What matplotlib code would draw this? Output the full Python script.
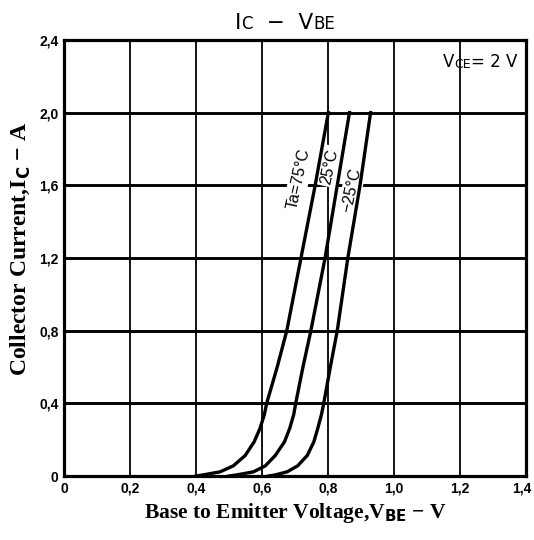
import matplotlib.pyplot as plt
import matplotlib.transforms as mtransforms
import numpy as np

# Ic - Vbe curves (V, A)
ic_pts = [0.0, 0.006, 0.023, 0.056, 0.113, 0.188, 0.263, 0.338, 0.40, 0.60, 0.80, 1.20, 1.60, 2.00]
vbe_75 = [0.400, 0.421, 0.473, 0.513, 0.549, 0.576, 0.594, 0.607, 0.614, 0.646, 0.675, 0.718, 0.761, 0.801]
vbe_25 = [0.500, 0.523, 0.574, 0.610, 0.640, 0.668, 0.684, 0.696, 0.702, 0.724, 0.748, 0.791, 0.828, 0.865]
vbe_m25 = [0.620, 0.640, 0.676, 0.708, 0.737, 0.757, 0.769, 0.780, 0.787, 0.807, 0.828, 0.860, 0.897, 0.929]

x_ticks = [0, 0.2, 0.4, 0.6, 0.8, 1.0, 1.2, 1.4]
x_labels = ["0", "0,2", "0,4", "0,6", "0,8", "1,0", "1,2", "1,4"]
y_ticks = [0, 0.4, 0.8, 1.2, 1.6, 2.0, 2.4]
y_labels = ["0", "0,4", "0,8", "1,2", "1,6", "2,0", "2,4"]

fig = plt.figure(figsize=(5.34, 5.4), dpi=100)
ax = fig.add_axes([0.12, 0.1185, 0.865, 0.8075])

# grid: horizontal lines are heavier than the vertical ones
for y in y_ticks[1:-1]:
    ax.axhline(y, color="black", lw=2.1, zorder=1)
for x in x_ticks[1:-1]:
    ax.axvline(x, color="black", lw=1.3, zorder=1)

for v in [vbe_75, vbe_25, vbe_m25]:
    ax.plot(v, ic_pts, color="black", lw=2.4, solid_joinstyle="round", zorder=3)

ax.set_xlim(0, 1.4)
ax.set_ylim(0, 2.4)
ax.set_xticks(x_ticks)
ax.set_xticklabels(x_labels)
ax.set_yticks(y_ticks)
ax.set_yticklabels(y_labels)
ax.tick_params(length=0, pad=4, labelsize=10)
for lab in ax.get_xticklabels() + ax.get_yticklabels():
    lab.set_fontweight("bold")
    lab.set_family("Liberation Sans")
# keep the last x label inside the picture
last_lab = ax.get_xticklabels()[-1]
last_lab.set_transform(last_lab.get_transform() +
                       mtransforms.ScaledTranslation(-4 / 100, 0, fig.dpi_scale_trans))
for s in ax.spines.values():
    s.set_linewidth(2.3)

# temperature labels along the curves, grid blanked out behind them
lab_kw = dict(rotation=78, ha="center", va="center", fontsize=11.5, family="Liberation Sans",
              zorder=2, bbox=dict(fc="white", ec="none", pad=2))
ax.text(0.712, 1.638, "Ta=75°C", **lab_kw)
ax.text(0.806, 1.705, "25°C", **lab_kw)
ax.text(0.872, 1.575, "−25°C", **lab_kw)


def write_parts(x, y, parts):
    # big and small letters side by side, like "I" + "C"
    first, size = parts[0]
    last = fig.text(x, y, first, fontsize=size, ha="left", va="baseline", fontweight="medium")
    for txt, size in parts[1:]:
        last = fig.add_artist(plt.Annotation(txt, xy=(1, 0), xycoords=last, fontsize=size,
                                             ha="left", va="bottom", fontweight="medium"))


write_parts(0.44, 0.946, [("I", 15.5), ("C", 12), ("  −  V", 15.5), ("BE", 12)])
write_parts(0.829, 0.876, [("V", 12), ("CE", 9), ("= 2 V", 12)])

ax.set_xlabel(r"Base to Emitter Voltage,V$_{\mathbf{BE}}$ − V", family="Liberation Serif",
              fontweight="bold", fontsize=15.5, labelpad=4)
ax.set_ylabel(r"Collector Current,I$_{\mathbf{C}}$ − A", family="Liberation Serif",
              fontweight="bold", fontsize=17)
ax.yaxis.set_label_coords(-0.07, 0.52)

plt.savefig("out.png", dpi=100)
